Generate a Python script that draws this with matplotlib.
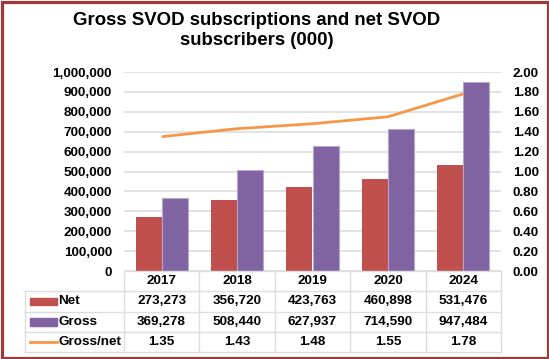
import matplotlib.pyplot as plt
from matplotlib.patches import Rectangle
from matplotlib.lines import Line2D
from matplotlib.ticker import FuncFormatter

plt.rcParams['font.family'] = ['Liberation Sans', 'DejaVu Sans']
plt.rcParams['font.weight'] = 'bold'

years = ['2017', '2018', '2019', '2020', '2024']
net = [273273, 356720, 423763, 460898, 531476]
gross = [369278, 508440, 627937, 714590, 947484]
ratio = [1.35, 1.43, 1.48, 1.55, 1.78]

red = '#C0504D'
purple = '#8064A2'
orange = '#F79646'
grid_col = '#DDDDDD'

fig = plt.figure(figsize=(5.49, 3.59), dpi=100)
ax = fig.add_axes([124/549, 1-271/359, 377/549, 199/359])

x = list(range(len(years)))
w = 0.345
ax.bar([i - w/2 for i in x], net, width=w, color=red, zorder=3)
ax.bar([i + w/2 for i in x], gross, width=w, color=purple, edgecolor='#B7A6CE', linewidth=0.8, zorder=3)
ax.set_xlim(-0.5, len(years) - 0.5)
ax.set_ylim(0, 1000000)
ax.set_yticks(range(0, 1000001, 100000))
ax.yaxis.set_major_formatter(FuncFormatter(lambda v, p: f"{int(v):,}"))
ax.yaxis.grid(True, color=grid_col, linewidth=1.2, zorder=0)
ax.set_xticks([])
ax.tick_params(axis='y', length=0, pad=8.6, labelsize=9.7)
for s in ax.spines.values():
    s.set_visible(False)

ax2 = ax.twinx()
ax2.plot(x, ratio, color=orange, linewidth=2, solid_capstyle='butt', zorder=4)
ax2.set_ylim(0, 2)
ax2.set_yticks([i * 0.2 for i in range(11)])
ax2.yaxis.set_major_formatter(FuncFormatter(lambda v, p: f"{v:.2f}"))
ax2.tick_params(axis='y', length=0, pad=8.6, labelsize=9.7)
for s in ax2.spines.values():
    s.set_visible(False)

# data table under the plot
tr = ax.get_xaxis_transform()
rows = [0, -20/199, -41/199, -61/199, -81/199]
left = -0.5 - 99/75.4
right = len(years) - 0.5
lkw = dict(color=grid_col, linewidth=1, transform=tr, clip_on=False, zorder=5)
ax.add_line(Line2D([-0.5, right], [rows[0], rows[0]], **lkw))
for r in rows[1:]:
    ax.add_line(Line2D([left, right], [r, r], **lkw))
ax.add_line(Line2D([left, left], [rows[1], rows[-1]], **lkw))
for i in range(len(years) + 1):
    ax.add_line(Line2D([i - 0.5, i - 0.5], [rows[0], rows[-1]], **lkw))

tkw = dict(transform=tr, ha='center', va='center', fontsize=9.7, fontweight='bold', clip_on=False)
for i, yr in enumerate(years):
    ax.text(i, (rows[0] + rows[1]) / 2, yr, **tkw)
    ax.text(i, (rows[1] + rows[2]) / 2, f"{net[i]:,}", **tkw)
    ax.text(i, (rows[2] + rows[3]) / 2, f"{gross[i]:,}", **tkw)
    ax.text(i, (rows[3] + rows[4]) / 2, f"{ratio[i]:.2f}", **tkw)

labels = ['Net', 'Gross', 'Gross/net']
kx0, kx1 = -0.5 - 94/75.4, -0.5 - 67/75.4
for j, lab in enumerate(labels):
    yc = (rows[j + 1] + rows[j + 2]) / 2
    if j < 2:
        ax.add_patch(Rectangle((kx0, yc - 0.02), kx1 - kx0, 0.04, color=[red, purple][j],
                               transform=tr, clip_on=False, zorder=5))
    else:
        ax.add_line(Line2D([kx0, kx1], [yc, yc], color=orange, linewidth=2,
                           transform=tr, clip_on=False, zorder=5))
    ax.text(kx1 + 0.02, yc, lab, transform=tr, ha='left', va='center', fontsize=9.7,
            fontweight='bold', clip_on=False)

fig.text(257/549, 1 - 12/359, 'Gross SVOD subscriptions and net SVOD\nsubscribers (000)',
         ha='center', va='top', fontsize=13.4, fontweight='bold', linespacing=1.2)

fig.patches.append(Rectangle((1.5/549, 1.5/359), 1 - 3/549, 1 - 3/359, transform=fig.transFigure,
                             fill=False, edgecolor='#9C3B3B', linewidth=2.3))

fig.savefig('out.png', dpi=100)
